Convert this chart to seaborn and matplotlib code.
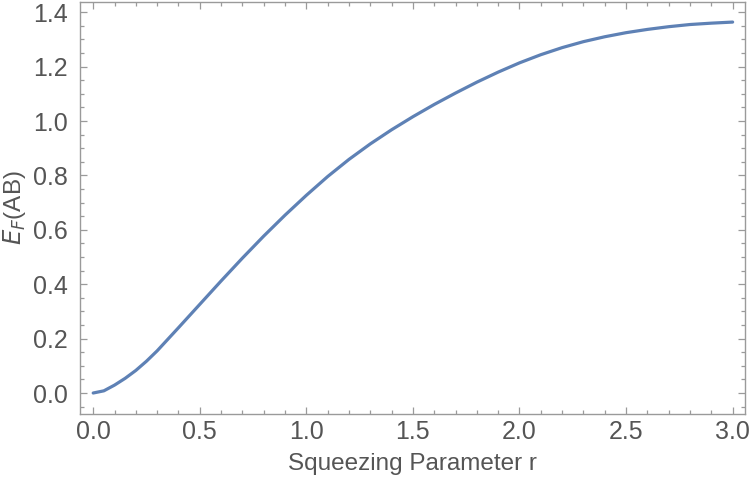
import numpy as np
import pandas as pd
import seaborn as sns
import matplotlib.pyplot as plt
from matplotlib.ticker import MultipleLocator

# -------------------------
# data
# -------------------------
r_values = [0.0, 0.05, 0.1, 0.15, 0.2, 0.25, 0.3, 0.4, 0.5, 0.6, 0.7, 0.8, 0.9, 1.0,
            1.1, 1.2, 1.3, 1.4, 1.5, 1.6, 1.7, 1.8, 1.9, 2.0, 2.1, 2.2, 2.3,
            2.4, 2.5, 2.6, 2.7, 2.8, 2.9, 3.0]
ef_values = [0.0, 0.008, 0.029, 0.054, 0.083, 0.117, 0.155, 0.240, 0.326, 0.412, 0.496,
             0.577, 0.654, 0.727, 0.796, 0.859, 0.916, 0.968, 1.016, 1.061, 1.103,
             1.143, 1.180, 1.214, 1.244, 1.270, 1.292, 1.310, 1.325, 1.337, 1.347,
             1.355, 1.360, 1.364]
x_label = "Squeezing Parameter r"
y_label = r"$E_F$(AB)"

df = pd.DataFrame({"r": r_values, "ef": ef_values})

# -------------------------
# style
# -------------------------
sns.set_theme(style="ticks")
font_list = ["Liberation Sans Narrow", "Liberation Sans", "DejaVu Sans"]
plt.rcParams["font.family"] = font_list
plt.rcParams["mathtext.fontset"] = "custom"
plt.rcParams["mathtext.rm"] = "Liberation Sans Narrow"
plt.rcParams["mathtext.it"] = "Liberation Sans Narrow:italic"

text_col = "#555555"
frame_col = "#9a9a9a"
line_col = "#5E81B5"
tick_fs = 18
label_fs = 17.5

fig = plt.figure(figsize=(7.51, 4.87), dpi=100)
ax = fig.add_axes([0.1065, 0.150, 0.8855, 0.846])

sns.lineplot(data=df, x="r", y="ef", ax=ax, color=line_col, linewidth=2.3)

ax.set_xlim(-0.062, 3.058)
ax.set_ylim(-0.077, 1.438)

ax.xaxis.set_major_locator(MultipleLocator(0.5))
ax.xaxis.set_minor_locator(MultipleLocator(0.1))
ax.yaxis.set_major_locator(MultipleLocator(0.2))
ax.yaxis.set_minor_locator(MultipleLocator(0.05))
ax.xaxis.set_major_formatter(lambda v, p: f"{v:.1f}")
ax.yaxis.set_major_formatter(lambda v, p: f"{v:.1f}")

for s in ax.spines.values():
    s.set_color(frame_col)
    s.set_linewidth(1.0)

ax.tick_params(which="both", direction="in", top=True, right=True,
               color=frame_col, width=0.9, labelcolor=text_col, labelsize=tick_fs)
ax.tick_params(which="major", length=4.8)
ax.tick_params(which="minor", length=2.6)
ax.tick_params(axis="x", which="major", pad=4)
ax.tick_params(axis="y", which="major", pad=9)

ax.set_xlabel(x_label, color=text_col, fontsize=label_fs, labelpad=7)
ax.set_ylabel(y_label, color=text_col, fontsize=label_fs, labelpad=3)

fig.savefig("out.png", dpi=100)
